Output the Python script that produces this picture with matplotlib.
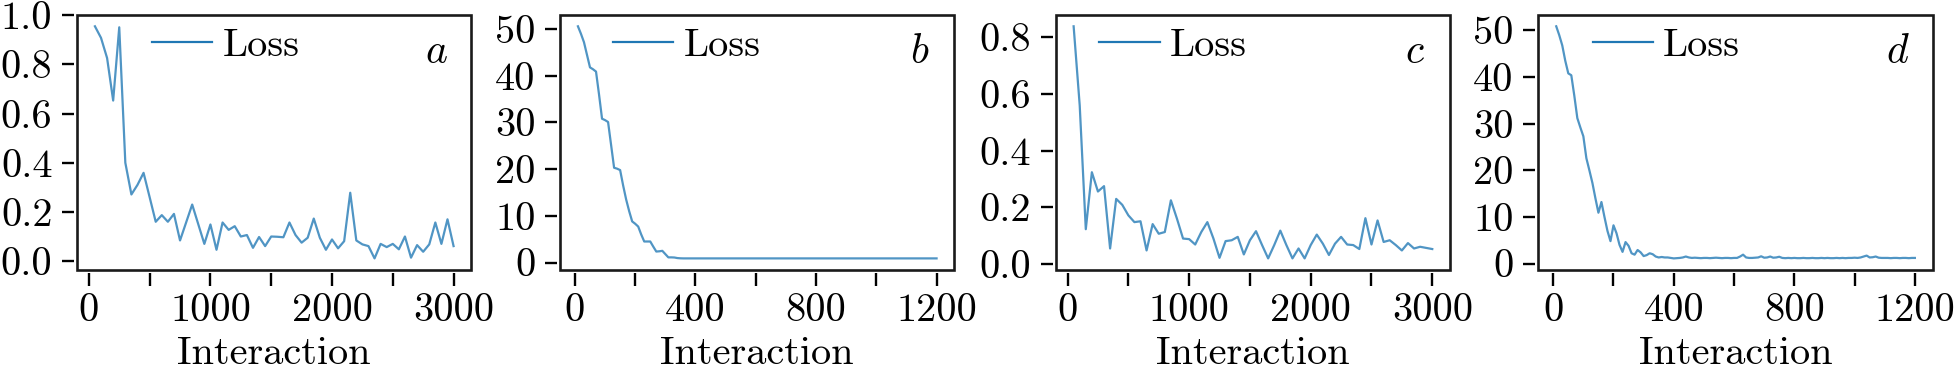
import numpy as np
import matplotlib
matplotlib.use("Agg")
import matplotlib.pyplot as plt
from matplotlib.patches import Rectangle

plt.rcParams['font.family'] = 'serif'
plt.rcParams['font.serif'] = ['cmr10']
plt.rcParams['mathtext.fontset'] = 'cm'
plt.rcParams['axes.formatter.use_mathtext'] = True

# ---------------- data ----------------
x_a = np.arange(50, 3001, 50)
loss_a = [0.955, 0.908, 0.826, 0.653, 0.951, 0.40, 0.271, 0.31, 0.359, 0.26,
          0.16, 0.187, 0.16, 0.192, 0.084, 0.157, 0.23, 0.15, 0.07, 0.149,
          0.046, 0.157, 0.127, 0.142, 0.10, 0.106, 0.054, 0.098, 0.061, 0.10,
          0.099, 0.097, 0.157, 0.106, 0.075, 0.095, 0.173, 0.095, 0.046, 0.088,
          0.052, 0.081, 0.278, 0.084, 0.068, 0.061, 0.011, 0.07, 0.057, 0.07,
          0.048, 0.10, 0.014, 0.065, 0.038, 0.068, 0.157, 0.07, 0.17, 0.061]

x_b = np.arange(10, 1201, 10)
loss_b = [50.6, 49.0, 47.2, 44.5, 41.8, 41.4, 40.9, 36.0, 30.8, 30.5,
          30.1, 25.2, 20.3, 20.1, 19.8, 16.5, 13.5, 11.0, 8.8, 8.3,
          7.7, 6.0, 4.5, 4.5, 4.5, 3.4, 2.35, 2.4, 2.5, 1.8,
          1.1, 1.1, 1.07, 0.95, 0.9, 0.88, 0.88, 0.88, 0.88, 0.88,
          0.88, 0.88, 0.88, 0.88, 0.88, 0.88, 0.88, 0.88, 0.88, 0.88,
          0.88, 0.88, 0.88, 0.88, 0.88, 0.88, 0.88, 0.88, 0.88, 0.88,
          0.88, 0.88, 0.88, 0.88, 0.88, 0.88, 0.88, 0.88, 0.88, 0.88,
          0.88, 0.88, 0.88, 0.88, 0.88, 0.88, 0.88, 0.88, 0.88, 0.88,
          0.88, 0.88, 0.88, 0.88, 0.88, 0.88, 0.88, 0.88, 0.88, 0.88,
          0.88, 0.88, 0.88, 0.88, 0.88, 0.88, 0.88, 0.88, 0.88, 0.88,
          0.88, 0.88, 0.88, 0.88, 0.88, 0.88, 0.88, 0.88, 0.88, 0.88,
          0.88, 0.88, 0.88, 0.88, 0.88, 0.88, 0.88, 0.88, 0.88, 0.88]

x_c = np.arange(50, 3001, 50)
loss_c = [0.839, 0.56, 0.123, 0.324, 0.256, 0.275, 0.055, 0.23, 0.209, 0.172,
          0.148, 0.151, 0.048, 0.141, 0.107, 0.113, 0.225, 0.16, 0.09, 0.088,
          0.069, 0.113, 0.148, 0.09, 0.022, 0.081, 0.084, 0.096, 0.034, 0.084,
          0.116, 0.067, 0.02, 0.067, 0.118, 0.067, 0.02, 0.055, 0.02, 0.067,
          0.104, 0.072, 0.032, 0.072, 0.096, 0.069, 0.067, 0.053, 0.162, 0.069,
          0.154, 0.078, 0.084, 0.067, 0.048, 0.074, 0.055, 0.061, 0.057, 0.053]

x_d = np.arange(10, 1201, 10)
loss_d = [50.9, 49.0, 46.8, 43.5, 40.8, 40.4, 36.0, 31.2, 29.2, 27.3,
          22.6, 20.0, 17.3, 14.0, 10.9, 13.2, 10.0, 7.0, 4.8, 8.2,
          6.5, 4.0, 2.5, 4.6, 3.8, 2.2, 1.9, 2.9, 2.4, 1.6,
          1.8, 2.2, 2.0, 1.5, 1.3, 1.4, 1.3, 1.3, 1.2, 1.1,
          1.15, 1.2, 1.3, 1.5, 1.3, 1.2, 1.25, 1.2, 1.15, 1.2,
          1.2, 1.15, 1.2, 1.25, 1.2, 1.15, 1.2, 1.2, 1.15, 1.2,
          1.2, 1.5, 1.9, 1.3, 1.2, 1.2, 1.25, 1.3, 1.55, 1.25,
          1.3, 1.5, 1.25, 1.3, 1.45, 1.2, 1.15, 1.2, 1.15, 1.2,
          1.15, 1.15, 1.2, 1.15, 1.15, 1.2, 1.15, 1.15, 1.2, 1.15,
          1.2, 1.15, 1.15, 1.2, 1.15, 1.2, 1.15, 1.2, 1.2, 1.25,
          1.2, 1.3, 1.5, 1.7, 1.3, 1.35, 1.5, 1.25, 1.2, 1.2,
          1.2, 1.15, 1.2, 1.2, 1.15, 1.2, 1.2, 1.15, 1.2, 1.2]

xticks_long = [0, 500, 1000, 1500, 2000, 2500, 3000]
xlabels_long = ['0', '', '1000', '', '2000', '', '3000']
xticks_short = [0, 200, 400, 600, 800, 1000, 1200]
xlabels_short = ['0', '', '400', '', '800', '', '1200']
yticks_a = [0.0, 0.2, 0.4, 0.6, 0.8, 1.0]
ylabels_a = ['0.0', '0.2', '0.4', '0.6', '0.8', '1.0']
yticks_big = [0, 10, 20, 30, 40, 50]
ylabels_big = ['0', '10', '20', '30', '40', '50']
yticks_c = [0.0, 0.2, 0.4, 0.6, 0.8]
ylabels_c = ['0.0', '0.2', '0.4', '0.6', '0.8']
panel_letters = ['a', 'b', 'c', 'd']
legend_label = 'Loss'
xlabel_text = 'Interaction'

# ---------------- layout ----------------
W, H = 1956, 370
fig = plt.figure(figsize=(W / 100, H / 100), dpi=100)

lefts_px = [77, 560, 1055.7, 1538.3]
width_px = 394.5
top_px, bottom_px = 14.7, 270.0
legend_x = [0.19, 0.134, 0.11, 0.138]

panels = [
    (x_a, loss_a, xticks_long, xlabels_long, yticks_a, ylabels_a),
    (x_b, loss_b, xticks_short, xlabels_short, yticks_big, ylabels_big),
    (x_c, loss_c, xticks_long, xlabels_long, yticks_c, ylabels_c),
    (x_d, loss_d, xticks_short, xlabels_short, yticks_big, ylabels_big),
]

line_color = '#1f77b4'
spine_lw = 1.9
fs = 29

for i, (xs, ys, xt, xl, yt, yl) in enumerate(panels):
    ax = fig.add_axes([lefts_px[i] / W, 1 - bottom_px / H,
                       width_px / W, (bottom_px - top_px) / H])
    ax.plot(xs, ys, color=line_color, lw=1.6, alpha=0.78, label=legend_label)
    ax.set_xticks(xt, xl)
    ax.set_yticks(yt, yl)
    ax.tick_params(axis='both', direction='out', length=9, width=1.7,
                   labelsize=fs)
    ax.tick_params(axis='x', pad=5.5)
    ax.tick_params(axis='y', pad=6.5)
    for s in ax.spines.values():
        s.set_color('none')
        s.set_position(('outward', 2.2))
    ax.add_patch(Rectangle((0, 0), 1, 1, transform=ax.transAxes, fill=False,
                           lw=spine_lw, edgecolor='#1a1a1a', clip_on=False,
                           zorder=5))
    ax.set_xlabel(xlabel_text, fontsize=fs, labelpad=5)
    leg = ax.legend(loc='center left', bbox_to_anchor=(legend_x[i], 0.878),
                    frameon=False, fontsize=fs, handlelength=1.5,
                    handletextpad=0.25, borderpad=0, borderaxespad=0)
    for h in leg.get_lines():
        h.set_alpha(1.0)
    ax.text(0.911, 0.81, r'$%s$' % panel_letters[i], transform=ax.transAxes,
            ha='center', va='baseline', fontsize=30)

fig.savefig('out.png', dpi=100)
